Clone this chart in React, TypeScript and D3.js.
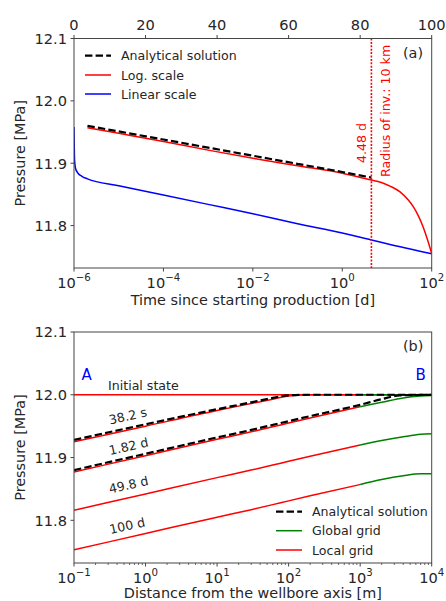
import React from "react";
import * as d3 from "d3";

// ---------- Panel (a) data ----------
const analyticTime = [2e-6, 1e-5, 1e-4, 1e-3, 1e-2, 1e-1, 1, 4.48];
const analyticPressure = [11.960, 11.951, 11.938, 11.925, 11.912, 11.899, 11.886, 11.877];

const logScaleTime = [2e-6, 1e-5, 1e-4, 1e-3, 1e-2, 1e-1, 1, 4.48, 6, 8.3, 12, 19.6, 30, 39, 50, 65, 80, 100];
const logScalePressure = [11.957, 11.948, 11.935, 11.921, 11.908, 11.896, 11.884, 11.873, 11.871, 11.868, 11.863, 11.854, 11.841, 11.830, 11.816, 11.797, 11.778, 11.755];

const linearScaleTime = [1e-6, 1.01e-6, 1.03e-6, 1.08e-6, 1.2e-6, 1.5e-6, 2e-6, 1e-5, 1e-4, 1e-3, 1e-2, 1e-1, 1, 4.48, 10, 100];
const linearScalePressure = [11.958, 11.935, 11.905, 11.892, 11.885, 11.879, 11.875, 11.864, 11.849, 11.834, 11.819, 11.803, 11.788, 11.777, 11.771, 11.755];

const radiusTime = 4.48;
const topTicksLinear = [0, 20, 40, 60, 80, 100];
const bottomTicksA = [-6, -4, -2, 0, 2];
const yTicks = [11.8, 11.9, 12.0, 12.1];

// ---------- Panel (b) data ----------
const localR = [0.1, 1, 10, 30, 60, 100, 200, 1000];
const globalR = [1000, 2000, 4000, 7000, 10000];
const analyticR = [0.1, 1, 10, 30, 60, 100, 200, 1000, 2000, 3600, 10000];

const initialLocal = [12.0, 12.0, 12.0, 12.0, 12.0, 12.0, 12.0, 12.0];
const initialGlobal = [12.0, 12.0, 12.0, 12.0, 12.0];

const t38sAnalytic = [11.928, 11.953, 11.977, 11.988, 11.995, 11.999, 12.0, 12.0, 12.0, 12.0, 12.0];
const t38sLocal = [11.925, 11.950, 11.975, 11.986, 11.993, 11.998, 12.0, 12.0];
const t38sGlobal = [12.0, 12.0, 12.0, 12.0, 12.0];

const t182dAnalytic = [11.880, 11.906, 11.932, 11.944, 11.952, 11.958, 11.966, 11.984, 11.993, 11.999, 12.0];
const t182dLocal = [11.877, 11.903, 11.929, 11.941, 11.949, 11.955, 11.963, 11.981];
const t182dGlobal = [11.981, 11.988, 11.995, 11.998, 11.999];

const t498dLocal = [11.816, 11.842, 11.868, 11.880, 11.888, 11.894, 11.902, 11.920];
const t498dGlobal = [11.920, 11.927, 11.933, 11.937, 11.938];

const t100dLocal = [11.753, 11.779, 11.805, 11.817, 11.825, 11.831, 11.839, 11.857];
const t100dGlobal = [11.857, 11.865, 11.871, 11.874, 11.874];

const bottomTicksB = [-1, 0, 1, 2, 3, 4];

const RED = "#ff0000";
const BLUE = "#0000ff";
const GREEN = "#008000";
const TXT = "#262626";
const SPINE = "#444";
const FONT = "DejaVu Sans, sans-serif";

function zip(xs: number[], ys: number[]) {
  return xs.map((x, i) => [x, ys[i]] as [number, number]);
}

function Sup({ x, y, exp }: { x: number; y: number; exp: number }) {
  const e = exp < 0 ? "\u2212" + Math.abs(exp) : String(exp);
  return (
    <text x={x} y={y} textAnchor="middle" fontSize={14.6} fill={TXT} fontFamily={FONT}>
      10
      <tspan fontSize={10.2} dy={-6.5}>{e}</tspan>
    </text>
  );
}

export default function App() {
  const L = 74, R = 431.7;
  const aTop = 38.5, aBot = 268;
  const bTop = 332, bBot = 563;
  const yDom: [number, number] = [11.732, 12.1];

  const xA = d3.scaleLog().domain([1e-6, 1e2]).range([L, R]);
  const xAlin = d3.scaleLinear().domain([0, 100]).range([L, R]);
  const yA = d3.scaleLinear().domain(yDom).range([aBot, aTop]);
  const xB = d3.scaleLog().domain([1e-1, 1e4]).range([L, R]);
  const yB = d3.scaleLinear().domain(yDom).range([bBot, bTop]);

  const lineA = d3.line<[number, number]>().x(d => xA(d[0])).y(d => yA(d[1])).curve(d3.curveMonotoneX);
  const lineB = d3.line<[number, number]>().x(d => xB(d[0])).y(d => yB(d[1])).curve(d3.curveMonotoneX);

  const dash = "7.4,3.2";

  const minorB: number[] = [];
  for (let e = -1; e < 4; e++) for (let m = 2; m <= 9; m++) minorB.push(m * Math.pow(10, e));

  const yAxis = (ys: d3.ScaleLinear<number, number>) =>
    yTicks.map(v => (
      <g key={v}>
        <line x1={L - 3.5} x2={L} y1={ys(v)} y2={ys(v)} stroke={SPINE} strokeWidth={1} />
        <text x={L - 7} y={ys(v) + 5.3} textAnchor="end" fontSize={14.6} fill={TXT} fontFamily={FONT}>
          {v.toFixed(1)}
        </text>
      </g>
    ));

  const legendRow = (y: number, x0: number, color: string, dashed: boolean, label: string) => (
    <g key={label}>
      <line x1={x0} x2={x0 + 26} y1={y} y2={y} stroke={color} strokeWidth={dashed ? 2.2 : 1.5}
        strokeDasharray={dashed ? dash : undefined} />
      <text x={x0 + 36} y={y + 4.5} fontSize={12.6} fill={TXT} fontFamily={FONT}>{label}</text>
    </g>
  );

  const bLocal: [number[], string][] = [
    [initialLocal, "init"], [t38sLocal, "38"], [t182dLocal, "182"], [t498dLocal, "498"], [t100dLocal, "100"],
  ];
  const bGlobal: [number[], string][] = [
    [initialGlobal, "init"], [t38sGlobal, "38"], [t182dGlobal, "182"], [t498dGlobal, "498"], [t100dGlobal, "100"],
  ];

  const curveLabel = (x: number, y: number, s: string) => (
    <text x={x} y={y} transform={`rotate(-12.5, ${x}, ${y})`} fontSize={12.6} fill={TXT} fontFamily={FONT}>{s}</text>
  );

  return (
    <div style={{ position: "absolute", left: 0, top: 0 }}>
      <svg width={446} height={601} style={{ display: "block", background: "#fff" }}>
        <defs>
          <clipPath id="clipA"><rect x={L} y={aTop} width={R - L} height={aBot - aTop} /></clipPath>
          <clipPath id="clipB"><rect x={L} y={bTop} width={R - L} height={bBot - bTop} /></clipPath>
        </defs>
        {/* ================= Panel (a) ================= */}
        <g clipPath="url(#clipA)">
          <path d={lineA(zip(linearScaleTime, linearScalePressure)) || ""} fill="none" stroke={BLUE} strokeWidth={1.5} />
          <path d={lineA(zip(logScaleTime, logScalePressure)) || ""} fill="none" stroke={RED} strokeWidth={1.5} />
          <path d={lineA(zip(analyticTime, analyticPressure)) || ""} fill="none" stroke="#000" strokeWidth={2.2} strokeDasharray={dash} />
          <line x1={xA(radiusTime)} x2={xA(radiusTime)} y1={aTop} y2={aBot} stroke={RED} strokeWidth={1.6} strokeDasharray="2,1.4" />
        </g>
        <rect x={L} y={aTop} width={R - L} height={aBot - aTop} fill="none" stroke={SPINE} strokeWidth={1} />
        {yAxis(yA)}
        {bottomTicksA.map(e => (
          <g key={e}>
            <line x1={xA(Math.pow(10, e))} x2={xA(Math.pow(10, e))} y1={aBot} y2={aBot + 3.5} stroke={SPINE} strokeWidth={1} />
            <Sup x={xA(Math.pow(10, e))} y={aBot + 19.5} exp={e} />
          </g>
        ))}
        {topTicksLinear.map(v => (
          <g key={v}>
            <line x1={xAlin(v)} x2={xAlin(v)} y1={aTop} y2={aTop - 3.5} stroke={SPINE} strokeWidth={1} />
            <text x={xAlin(v)} y={aTop - 8.5} textAnchor="middle" fontSize={14.6} fill={TXT} fontFamily={FONT}>{v}</text>
          </g>
        ))}
        <text x={(L + R) / 2} y={305} textAnchor="middle" fontSize={14.4} fill={TXT} fontFamily={FONT}>
          Time since starting production [d]
        </text>
        <text transform={`translate(25, ${(aTop + aBot) / 2}) rotate(-90)`} textAnchor="middle" fontSize={14.4} fill={TXT} fontFamily={FONT}>
          Pressure [MPa]
        </text>
        <text x={403} y={58} fontSize={14.4} fill={TXT} fontFamily={FONT}>(a)</text>
        <text transform={`translate(365.5, 163) rotate(-90)`} fontSize={12.6} fill={RED} fontFamily={FONT}>4.48 d</text>
        <text transform={`translate(389.5, 177) rotate(-90)`} fontSize={12.6} fill={RED} fontFamily={FONT}>Radius of inv.: 10 km</text>
        {legendRow(55.7, 85, "#000", true, "Analytical solution")}
        {legendRow(75, 85, RED, false, "Log. scale")}
        {legendRow(94, 85, BLUE, false, "Linear scale")}

        {/* ================= Panel (b) ================= */}
        <g clipPath="url(#clipB)">
          {bLocal.map(([ys, k]) => (
            <path key={"l" + k} d={lineB(zip(localR, ys)) || ""} fill="none" stroke={RED} strokeWidth={1.5} />
          ))}
          {bGlobal.map(([ys, k]) => (
            <path key={"g" + k} d={lineB(zip(globalR, ys)) || ""} fill="none" stroke={GREEN} strokeWidth={1.5} />
          ))}
          <path d={lineB(zip(analyticR, t38sAnalytic)) || ""} fill="none" stroke="#000" strokeWidth={2.2} strokeDasharray={dash} />
          <path d={lineB(zip(analyticR, t182dAnalytic)) || ""} fill="none" stroke="#000" strokeWidth={2.2} strokeDasharray={dash} />
        </g>
        <rect x={L} y={bTop} width={R - L} height={bBot - bTop} fill="none" stroke={SPINE} strokeWidth={1} />
        {yAxis(yB)}
        {minorB.map(v => (
          <line key={v} x1={xB(v)} x2={xB(v)} y1={bBot} y2={bBot + 2} stroke={SPINE} strokeWidth={0.8} />
        ))}
        {bottomTicksB.map(e => (
          <g key={e}>
            <line x1={xB(Math.pow(10, e))} x2={xB(Math.pow(10, e))} y1={bBot} y2={bBot + 3.5} stroke={SPINE} strokeWidth={1} />
            <Sup x={xB(Math.pow(10, e))} y={bBot + 19.5} exp={e} />
          </g>
        ))}
        <text x={(L + R) / 2} y={598} textAnchor="middle" fontSize={14.4} fill={TXT} fontFamily={FONT}>
          Distance from the wellbore axis [m]
        </text>
        <text transform={`translate(25, ${(bTop + bBot) / 2}) rotate(-90)`} textAnchor="middle" fontSize={14.4} fill={TXT} fontFamily={FONT}>
          Pressure [MPa]
        </text>
        <text x={403} y={351} fontSize={14.4} fill={TXT} fontFamily={FONT}>(b)</text>
        <text x={81.5} y={380} fontSize={15} fill={BLUE} fontFamily={FONT}>A</text>
        <text x={415.5} y={380} fontSize={15} fill={BLUE} fontFamily={FONT}>B</text>
        <text x={108} y={390} fontSize={12.6} fill={TXT} fontFamily={FONT}>Initial state</text>
        {curveLabel(110, 424.5, "38.2 s")}
        {curveLabel(110, 455, "1.82 d")}
        {curveLabel(110, 493.5, "49.8 d")}
        {curveLabel(110.5, 534, "100 d")}
        {legendRow(511.7, 276, "#000", true, "Analytical solution")}
        {legendRow(530.7, 276, GREEN, false, "Global grid")}
        {legendRow(550, 276, RED, false, "Local grid")}
      </svg>
    </div>
  );
}
